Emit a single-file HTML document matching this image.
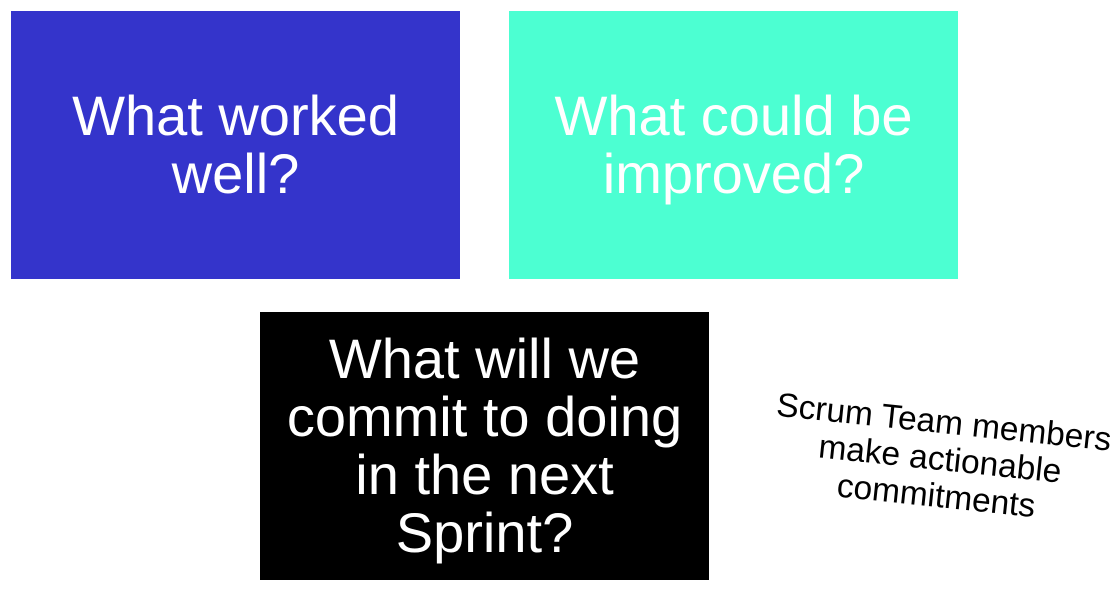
<!DOCTYPE html>
<html>
<head>
<meta charset="utf-8">
<style>
  html, body { margin:0; padding:0; width:1120px; height:592px; background:#fff; overflow:hidden; }
  .box { position:absolute; width:449px; height:268px; display:flex; align-items:center; justify-content:center; text-align:center; color:#fff; font-family:"Liberation Sans", Arial, sans-serif; font-size:56px; line-height:58px; }
  #b1 { left:11px; top:11px; background:#3434CB; }
  #b2 { left:509px; top:11px; background:#4CFFD2; }
  #b3 { left:260px; top:312px; background:#000; }
  #note { position:absolute; left:740px; top:404px; width:400px; text-align:center; font-family:"Liberation Sans", Arial, sans-serif; font-size:33.5px; line-height:37px; color:#000; transform:rotate(6deg); transform-origin:center center; }
</style>
</head>
<body>
  <div class="box" id="b1"><span>What worked<br>well?</span></div>
  <div class="box" id="b2"><span>What could be<br>improved?</span></div>
  <div class="box" id="b3"><span>What will we<br>commit to doing<br>in the next<br>Sprint?</span></div>
  <div id="note">Scrum Team members<br>make actionable<br>commitments</div>
</body>
</html>
